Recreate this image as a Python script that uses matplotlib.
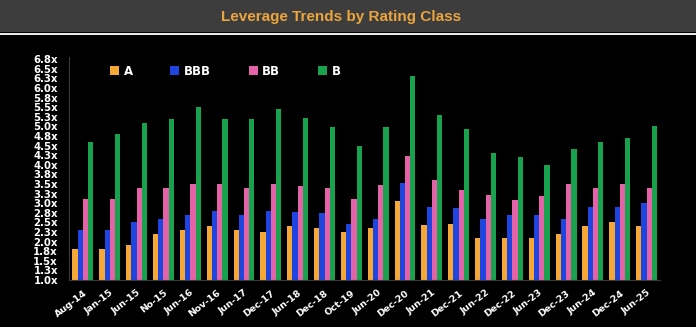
import numpy as np
import matplotlib.pyplot as plt
from matplotlib.patches import Rectangle

periods = ["Aug-14", "Jan-15", "Jun-15", "No-15", "Jun-16", "Nov-16", "Jun-17", "Dec-17",
           "Jun-18", "Dec-18", "Oct-19", "Jun-20", "Dec-20", "Jun-21", "Dec-21", "Jun-22",
           "Dec-22", "Jun-23", "Dec-23", "Jun-24", "Dec-24", "Jun-25"]
rating_a = [1.80, 1.80, 1.90, 2.20, 2.30, 2.40, 2.30, 2.25, 2.40, 2.35, 2.25, 2.35,
            3.05, 2.42, 2.47, 2.10, 2.10, 2.10, 2.20, 2.40, 2.50, 2.40]
rating_bbb = [2.30, 2.30, 2.50, 2.60, 2.70, 2.80, 2.70, 2.80, 2.78, 2.75, 2.46, 2.60,
              3.52, 2.90, 2.88, 2.60, 2.70, 2.70, 2.60, 2.90, 2.90, 3.00]
rating_bb = [3.10, 3.10, 3.40, 3.40, 3.50, 3.50, 3.40, 3.50, 3.45, 3.40, 3.12, 3.48,
             4.23, 3.60, 3.34, 3.22, 3.08, 3.20, 3.50, 3.40, 3.50, 3.40]
rating_b = [4.60, 4.80, 5.10, 5.20, 5.50, 5.20, 5.20, 5.45, 5.22, 4.98, 4.50, 4.98,
            6.31, 5.30, 4.93, 4.30, 4.20, 4.00, 4.40, 4.60, 4.70, 5.00]
series_names = ["A", "BBB", "BB", "B"]
y_ticks = [1.0, 1.25, 1.5, 1.75, 2.0, 2.25, 2.5, 2.75, 3.0, 3.25, 3.5, 3.75, 4.0,
           4.25, 4.5, 4.75, 5.0, 5.25, 5.5, 5.75, 6.0, 6.25, 6.5, 6.75]
y_tick_labels = ["1.0x", "1.3x", "1.5x", "1.8x", "2.0x", "2.3x", "2.5x", "2.8x", "3.0x",
                 "3.3x", "3.5x", "3.8x", "4.0x", "4.3x", "4.5x", "4.8x", "5.0x", "5.3x",
                 "5.5x", "5.8x", "6.0x", "6.3x", "6.5x", "6.8x"]

colors = ["#F5A836", "#1F45E0", "#E462A8", "#18A24E"]

fig = plt.figure(figsize=(6.96, 3.27), dpi=100, facecolor="black")

# grey title banner
fig.patches.append(Rectangle((0, 1 - 32 / 327), 1, 32 / 327, transform=fig.transFigure,
                             facecolor="#3D3D3D", edgecolor="none", zorder=0))
fig.patches.append(Rectangle((0, 1 - 35 / 327), 1, 2.5 / 327, transform=fig.transFigure,
                             facecolor="#E8E8E8", edgecolor="none", zorder=0))
fig.text(0.49, 1 - 17 / 327, "Leverage Trends by Rating Class", color="#EBA53E",
         fontsize=11, fontweight="bold", family="Liberation Sans", ha="center", va="center")

ax = fig.add_axes([69 / 696, 1 - 280 / 327, (660 - 69) / 696, (280 - 57.3) / 327])
ax.set_facecolor("black")

x = np.arange(len(periods))
w = 0.195
for i, (vals, name) in enumerate(zip([rating_a, rating_bbb, rating_bb, rating_b], series_names)):
    ax.bar(x + (i - 1.5) * w, np.array(vals) - 1.0, width=w, bottom=1.0,
           color=colors[i], label=name, zorder=2)

ax.set_xlim(-0.52, len(periods) - 0.5)
ax.set_ylim(1.0, 6.8)
ax.set_yticks(y_ticks)
ax.set_yticklabels(y_tick_labels)
ax.set_xticks(x)
ax.set_xticklabels(periods, rotation=38, ha="right", rotation_mode="anchor")
ax.tick_params(axis="y", length=0, pad=8, labelsize=7.3, labelcolor="white")
ax.tick_params(axis="x", length=0, pad=6, labelsize=6.8, labelcolor="white")
for lbl in ax.get_xticklabels() + ax.get_yticklabels():
    lbl.set_fontweight("bold")

for side in ["top", "right"]:
    ax.spines[side].set_visible(False)
ax.spines["left"].set_color("#3A3A3A")
ax.spines["bottom"].set_color("#3A3A3A")

leg = ax.legend(loc="center left", bbox_to_anchor=(35 / 591, 1 - 14 / 222.7), ncol=4,
                frameon=False, fontsize=8.5, handlelength=0.75, handleheight=0.75,
                handletextpad=0.4, columnspacing=3.2, borderpad=0)
for t in leg.get_texts():
    t.set_color("white")
    t.set_fontweight("bold")

fig.savefig("out.png", dpi=100, facecolor="black")
